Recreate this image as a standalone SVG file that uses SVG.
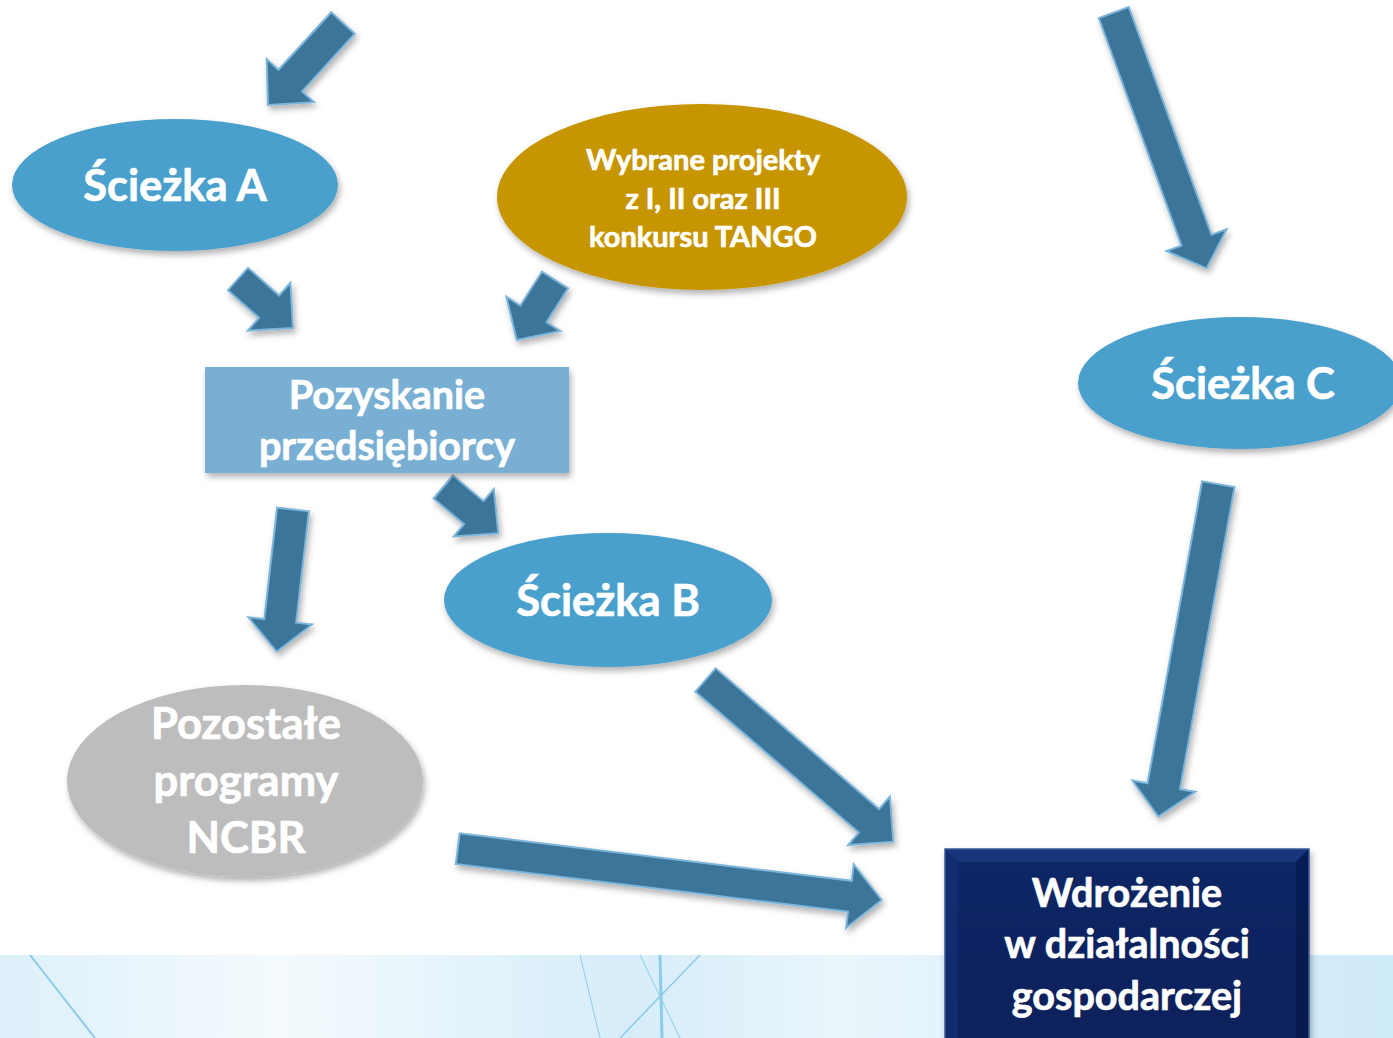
<svg xmlns="http://www.w3.org/2000/svg" width="1393" height="1038" viewBox="0 0 1393 1038">
<defs>
<style>
.t{font-family:Lato,"Open Sans","Liberation Sans",sans-serif;font-weight:700;fill:#ffffff;stroke:#ffffff;stroke-width:0.7;text-anchor:middle}
.arr{fill:#3B7499;stroke:#7DB5DA;stroke-width:2;stroke-linejoin:miter;filter:url(#sh)}
.bg-line{stroke:#8CCBEA;fill:none}
</style>
<filter id="sh" x="-20%" y="-20%" width="140%" height="140%">
<feDropShadow dx="2" dy="4" stdDeviation="3" flood-color="#000" flood-opacity="0.3"/>
</filter>
<linearGradient id="bgband" x1="0" y1="0" x2="1" y2="0">
<stop offset="0" stop-color="#DDF0FA"/>
<stop offset="0.2" stop-color="#F4FAFD"/>
<stop offset="0.45" stop-color="#D6EDF9"/>
<stop offset="0.6" stop-color="#E9F5FB"/>
<stop offset="1" stop-color="#CFEAF8"/>
</linearGradient>
<linearGradient id="navy" x1="0" y1="0" x2="0" y2="1">
<stop offset="0" stop-color="#0D2766"/>
<stop offset="1" stop-color="#08205A"/>
</linearGradient>
</defs>
<rect width="1393" height="1038" fill="#ffffff"/>
<g id="background">
<rect x="0" y="955" width="1393" height="83" fill="url(#bgband)"/>
<line class="bg-line" x1="30" y1="955" x2="95" y2="1038" stroke-width="2"/>
<line class="bg-line" x1="660" y1="955" x2="662" y2="1038" stroke-width="3" stroke="#4BB0E6"/>
<line class="bg-line" x1="700" y1="955" x2="620" y2="1038" stroke-width="1.5"/>
<line class="bg-line" x1="640" y1="955" x2="680" y2="1038" stroke-width="1"/>
<line class="bg-line" x1="580" y1="955" x2="600" y2="1038" stroke-width="1" stroke="#C2E3F4"/>
</g>
<g id="connectors">
<polygon class="arr" points="331.2,12.2 278.5,69.8 266.7,59 268,105 313.9,102.2 302.1,91.4 354.8,33.8"/>
<polygon class="arr" points="228,290.2 259.1,317.9 247.8,330.6 293,328 290.4,282.8 279.1,295.5 248,267.8"/>
<polygon class="arr" points="541.9,271.7 520.3,305.6 506.4,296.7 516.7,340 560.4,331.1 546.5,322.2 568.1,288.3"/>
<polygon class="arr" points="433.6,498.5 464.1,524.2 453.8,536.4 498.3,533.3 493.8,489 483.5,501.2 453,475.5"/>
<polygon class="arr" points="277.1,507.7 264.3,619.1 248.4,617.3 276.7,651.7 312,624.5 296.1,622.7 308.9,511.3"/>
<polygon class="arr" points="1098.8,18 1181.5,245.6 1166.4,251 1206.7,268.3 1226.6,229.2 1211.5,234.6 1128.8,7"/>
<polygon class="arr" points="1202.1,481.3 1147.6,783.3 1132.3,780.5 1158.3,816.7 1195.3,791.9 1180,789.1 1234.5,487.1"/>
<polygon class="arr" points="695.4,691.7 858.9,832.5 848.1,845.1 893.3,841.7 889.9,796.5 879.1,809.1 715.6,668.3"/>
<polygon class="arr" points="455.8,864.1 848,911.6 846.1,928 881.7,900 853.7,864.4 851.8,880.8 459.6,833.3"/>
</g>
<g id="sciezka-a">
<ellipse cx="175" cy="185" rx="163" ry="66" fill="#4AA0CD" filter="url(#sh)"/>
<text class="t" x="175" y="201" font-size="43.5">Ścieżka A</text>
</g>
<g id="tango">
<ellipse cx="702" cy="197" rx="205" ry="93" fill="#C69500" filter="url(#sh)"/>
<text class="t" x="703" y="170" font-size="29">Wybrane projekty</text>
<text class="t" x="703" y="209" font-size="29">z I, II oraz III</text>
<text class="t" x="703" y="247" font-size="29">konkursu TANGO</text>
</g>
<g id="pozyskanie">
<rect x="205" y="367" width="364" height="106" fill="#78AFD2" filter="url(#sh)"/>
<text class="t" x="387" y="409" font-size="39.5">Pozyskanie</text>
<text class="t" x="387" y="460" font-size="39.5">przedsiębiorcy</text>
</g>
<g id="sciezka-c">
<ellipse cx="1240" cy="383" rx="162" ry="66" fill="#4AA0CD" filter="url(#sh)"/>
<text class="t" x="1243" y="399" font-size="43.5">Ścieżka C</text>
</g>
<g id="sciezka-b">
<ellipse cx="608" cy="600" rx="164" ry="67" fill="#4AA0CD" filter="url(#sh)"/>
<text class="t" x="608" y="616" font-size="43.5">Ścieżka B</text>
</g>
<g id="pozostale">
<ellipse cx="245" cy="781" rx="178" ry="96" fill="#BDBDBD" filter="url(#sh)"/>
<text class="t" x="246" y="739" font-size="43.5">Pozostałe</text>
<text class="t" x="246" y="796" font-size="43.5">programy</text>
<text class="t" x="246" y="853" font-size="43.5">NCBR</text>
</g>
<g id="wdrozenie">
<rect x="945" y="849" width="364" height="200" fill="url(#navy)" stroke="#3A5A98" stroke-width="1.5" filter="url(#sh)"/>
<polygon points="946,850 1308,850 1296,862 958,862" fill="#1B3A82" opacity="0.8"/>
<polygon points="946,850 958,862 958,1038 946,1038" fill="#132F72" opacity="0.8"/>
<polygon points="1308,850 1296,862 1296,1038 1308,1038" fill="#061A4E" opacity="0.8"/>
<text class="t" x="1127" y="907" font-size="39.5">Wdrożenie</text>
<text class="t" x="1127" y="958" font-size="39.5">w działalności</text>
<text class="t" x="1127" y="1010" font-size="39.5">gospodarczej</text>
</g>
</svg>
